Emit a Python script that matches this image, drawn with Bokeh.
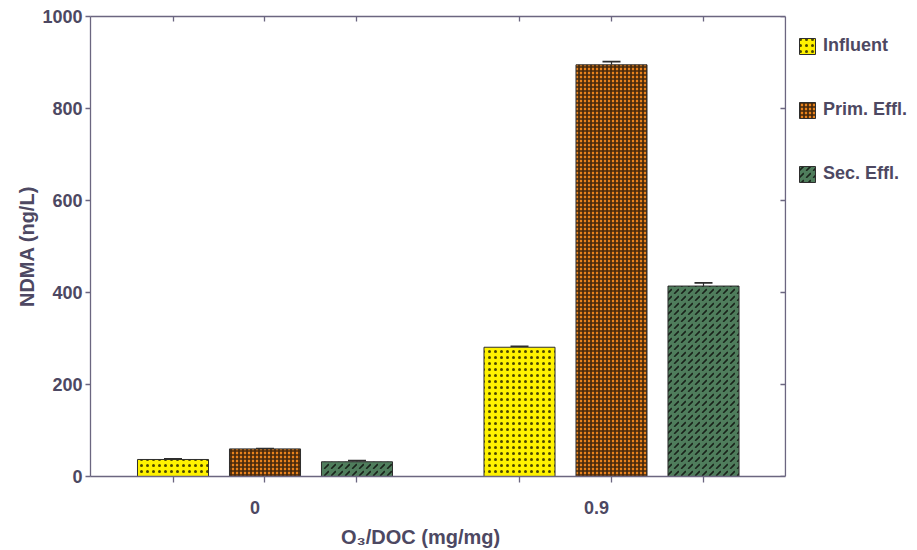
from bokeh.plotting import figure
from bokeh.models import (ColumnDataSource, FixedTicker, LinearAxis, Range1d,
                          Legend, LegendItem, Whisker, TeeHead, Span)
from bokeh.embed import file_html
from bokeh.resources import INLINE

# O3/DOC dose groups and the three water matrices
groups = ["0", "0.9"]
series = ["Influent", "Prim. Effl.", "Sec. Effl."]

influent = [37, 281]
prim_effl = [60, 895]
sec_effl = [32, 414]

influent_err = [1.5, 2]
prim_effl_err = [1, 7]
sec_effl_err = [2.5, 7]

values = [influent, prim_effl, sec_effl]
errors = [influent_err, prim_effl_err, sec_effl_err]

y_ticks = [0, 200, 400, 600, 800, 1000]

FONT = "Liberation Sans"
TEXT = "#4d4862"
AXIS = "#6b6680"
FIG_SPACE = "\u2007"

styles = [
    dict(fill_color="#fff200", hatch_pattern="dot", hatch_scale=6,
         hatch_weight=0.8, hatch_color="#000000", hatch_alpha=0.7),
    dict(fill_color="#e8821c", hatch_pattern="cross", hatch_scale=4,
         hatch_weight=1.7, hatch_color="#1a1008", hatch_alpha=0.8),
    dict(fill_color="#4f7d5c", hatch_pattern="right_diagonal_dash", hatch_scale=7,
         hatch_weight=1.6, hatch_color="#141a14", hatch_alpha=0.9),
]

dodge = 0.2655
bar_w = 0.205
offsets = [-dodge, 0.0, dodge]

# plotting box spans x_left..x_right; the area beyond x_right holds the legend
x_left, x_right, x_end = -0.5036, 1.502, 1.8831
tick_len = 0.0144  # 5 px in data units

p = figure(width=917, height=550, output_backend="svg", toolbar_location=None,
           x_range=Range1d(x_left, x_end), y_range=Range1d(0, 1000),
           min_border_left=90, min_border_right=0, min_border_top=16,
           min_border_bottom=74, x_axis_location=None, y_axis_location=None)
p.outline_line_color = None
p.grid.visible = False
p.background_fill_color = "white"
p.border_fill_color = "white"

legend_items = []
bar_centers = []
for name, vals, errs, off, st in zip(series, values, errors, offsets, styles):
    xs = [i + off for i in range(len(groups))]
    bar_centers.extend(xs)
    src = ColumnDataSource(dict(x=xs, top=vals,
                                upper=[v + e for v, e in zip(vals, errs)]))
    r = p.vbar(x="x", top="top", bottom=0, width=bar_w, source=src,
               line_color="#2e2e2e", line_width=1, **st)
    legend_items.append(LegendItem(label=name, renderers=[r]))
    w = Whisker(base="x", lower="top", upper="upper", source=src,
                line_color="#2e2e2e", line_width=1.2,
                upper_head=TeeHead(size=18, line_color="#2e2e2e", line_width=1.6),
                lower_head=None)
    p.add_layout(w)

bar_centers = sorted(bar_centers)


def style_axis(ax):
    ax.axis_line_color = AXIS
    ax.axis_line_width = 1.3
    ax.major_tick_line_color = AXIS
    ax.major_tick_line_width = 1.3
    ax.minor_tick_line_color = None
    ax.major_label_text_font = FONT
    ax.major_label_text_font_style = "bold"
    ax.major_label_text_font_size = "18px"
    ax.major_label_text_color = TEXT


def hide_labels(ax):
    ax.major_label_text_font_size = "0px"
    ax.major_label_text_color = None
    ax.major_label_standoff = 0


# left axis
yl = LinearAxis(ticker=FixedTicker(ticks=y_ticks))
style_axis(yl)
yl.major_tick_out = 5
yl.major_tick_in = 0
yl.major_label_standoff = 3
yl.axis_label = "NDMA (ng/L)"
yl.axis_label_text_font = FONT
yl.axis_label_text_font_style = "bold"
yl.axis_label_text_font_size = "20px"
yl.axis_label_text_color = TEXT
yl.axis_label_standoff = 1
p.add_layout(yl, "left")

# right edge of the box with inward ticks
p.add_layout(Span(location=x_right, dimension="height", line_color=AXIS,
                  line_width=1.3))
p.segment(x0=[x_right - tick_len] * len(y_ticks), x1=[x_right] * len(y_ticks),
          y0=y_ticks, y1=y_ticks, line_color=AXIS, line_width=1.3)

# top axis, inward ticks above each bar
xt = LinearAxis(ticker=FixedTicker(ticks=bar_centers), bounds=(x_left, x_right))
style_axis(xt)
xt.major_tick_out = 0
xt.major_tick_in = 5
hide_labels(xt)
p.add_layout(xt, "above")

# bottom axis, a tick under each bar
xb = LinearAxis(ticker=FixedTicker(ticks=bar_centers), bounds=(x_left, x_right))
style_axis(xb)
xb.major_tick_out = 6
xb.major_tick_in = 0
hide_labels(xb)
p.add_layout(xb, "below")

# second bottom axis carrying the dose labels and the axis title
group_pos = list(range(len(groups)))
xg = LinearAxis(ticker=FixedTicker(ticks=group_pos))
style_axis(xg)
xg.axis_line_color = None
xg.major_tick_line_color = None
xg.major_tick_out = 0
xg.major_tick_in = 0
xg.major_label_standoff = 15
xg.major_label_overrides = {0: groups[0] + FIG_SPACE * 2,
                            1: groups[1] + FIG_SPACE * 3}
xg.axis_label = "O\u2083/DOC (mg/mg)" + FIG_SPACE * 15
xg.axis_label_text_font = FONT
xg.axis_label_text_font_style = "bold"
xg.axis_label_text_font_size = "20px"
xg.axis_label_text_color = TEXT
xg.axis_label_standoff = 5
p.add_layout(xg, "below")

legend = Legend(items=legend_items, location=(707, 292), orientation="vertical",
                padding=0, margin=0, spacing=43, glyph_width=20, glyph_height=20,
                label_standoff=6, label_text_font=FONT,
                label_text_font_style="bold", label_text_font_size="18px",
                label_text_color=TEXT, border_line_color=None,
                background_fill_alpha=0)
p.add_layout(legend, "center")

open("out.html", "w").write(file_html(p, INLINE))
